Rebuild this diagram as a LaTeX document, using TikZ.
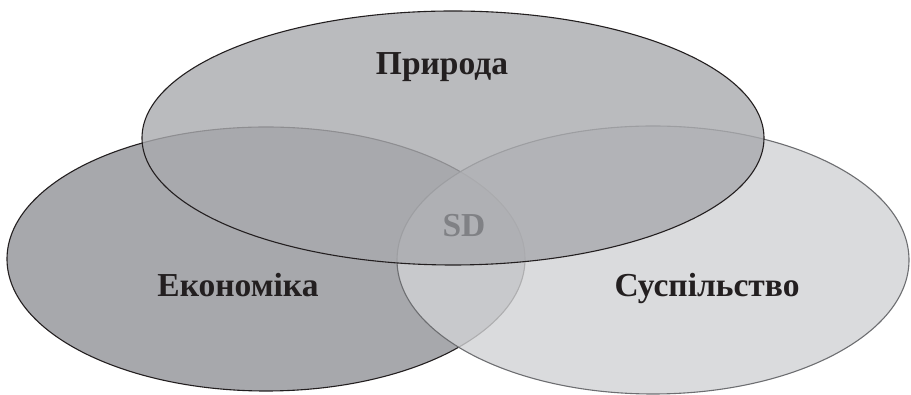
\documentclass[tikz,border=0pt]{standalone}
\usepackage{fontspec}
\setmainfont{Liberation Serif}
\usetikzlibrary{shapes.geometric, positioning}
\definecolor{econfill}{HTML}{A7A8AC}
\definecolor{natfill}{HTML}{A9AAAE}
\definecolor{socfill}{HTML}{D1D2D4}
\definecolor{inkblack}{HTML}{231F20}
\definecolor{inkgray}{HTML}{6D6E71}
\definecolor{sdgray}{HTML}{808185}
\tikzset{
x=1pt, y=1pt, % one unit is one pixel of the reference
sphere/.style={ellipse, inner sep=0pt, line width=1.1pt}, % the three areas
area text/.style={font=\bfseries\fontsize{33.5}{33.5}\selectfont, text=inkblack, anchor=base}, % labels of the areas
}
\begin{document}
\begin{tikzpicture}
    \useasboundingbox (0,0) rectangle (911,395);
    \node[sphere, draw=inkblack, fill=econfill, minimum width=518, minimum height=264] (economy) at (266,136) {};
    \node[sphere, draw=inkgray, fill=socfill, fill opacity=0.8, minimum width=512, minimum height=268] (society) at (653,135) {};
    \node[sphere, draw=inkblack, fill=natfill, fill opacity=0.8, minimum width=622, minimum height=254] (nature) at (453,257) {};
    \node[area text] (naturetext) at (442,320) {Природа};
    \node[area text] (economytext) at (238,98) {Економіка};
    \node[area text] (societytext) at (707,98) {Суспільство};
    \node[area text, text=sdgray] (sd) at (464,158) {SD};
\end{tikzpicture}
\end{document}
